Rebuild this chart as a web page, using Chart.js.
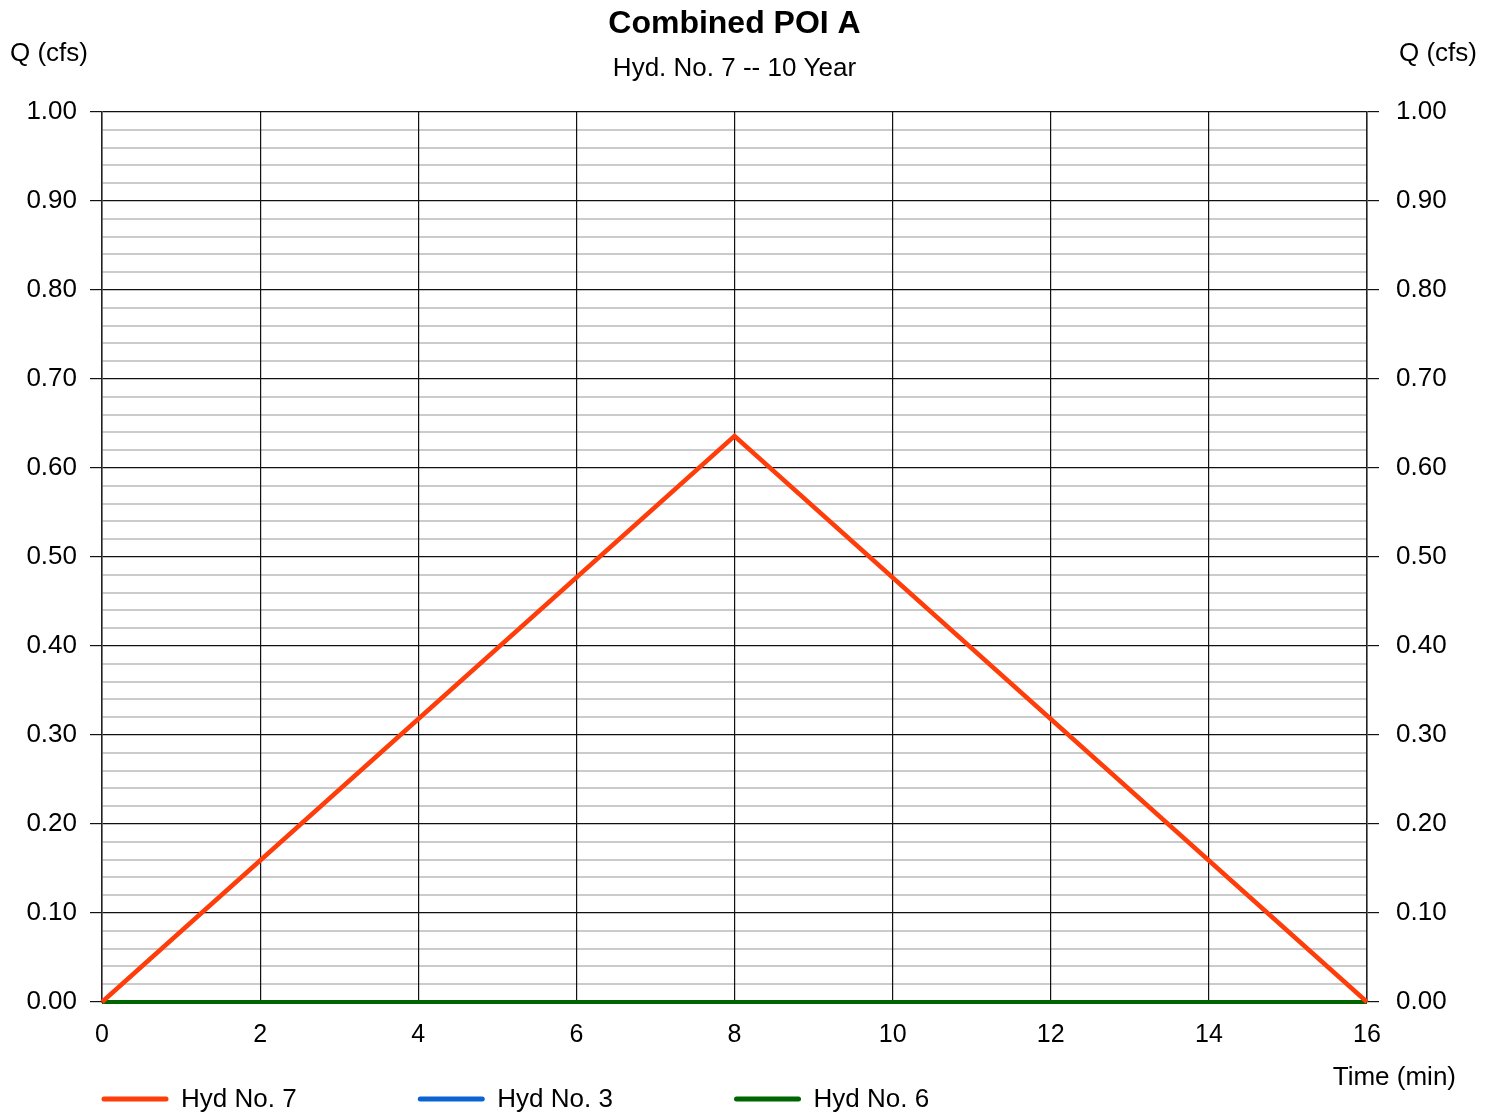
<!DOCTYPE html>
<html>
<head>
<meta charset="utf-8">
<script src="https://cdn.jsdelivr.net/npm/chart.js@4"></script>
<style>
  html, body { margin: 0; padding: 0; background: #fff; }
  canvas { display: block; }
</style>
</head>
<body>
<canvas id="hydChart" width="1496" height="1114"></canvas>
<script>
const time = [0, 8, 16];
const hyd7 = [0, 0.636, 0];
const hyd3 = [0, 0, 0];
const hyd6 = [0, 0, 0];
const seriesNames = ['Hyd No. 7', 'Hyd No. 3', 'Hyd No. 6'];
const seriesColors = ['#ff3d0a', '#0a64d2', '#006400'];
const legendAt = [0, 4, 8]; // legend items line up with these time gridlines

const FONT = "Arial, 'Liberation Sans', sans-serif";

const toPoints = (vals) => time.map((t, i) => ({ x: t, y: vals[i] }));
const isMajor = (v) => Math.round(v * 100) % 10 === 0;

const yAxis = (pos) => ({
    type: 'linear',
    position: pos,
    min: 0,
    max: 1,
    afterFit: (s) => { s.width = pos === 'left' ? 102 : 129; },
    border: { display: true, color: '#222', width: 1.5 },
    grid: {
        drawOnChartArea: pos === 'left',
        color: (c) => isMajor(c.tick.value) ? '#111' : '#cbcbcb',
        lineWidth: (c) => isMajor(c.tick.value) ? 1.2 : 2,
        tickColor: (c) => isMajor(c.tick.value) ? '#111' : 'rgba(0,0,0,0)',
        tickLength: 12
    },
    ticks: {
        stepSize: 0.02,
        autoSkip: false,
        padding: pos === 'left' ? 13 : 17,
        color: '#000',
        font: { family: FONT, size: 26 },
        callback: (v) => isMajor(v) ? v.toFixed(2) : ''
    }
});

const extraText = {
    id: 'extraText',
    afterDraw(chart) {
        const ctx = chart.ctx;
        const area = chart.chartArea;
        const xs = chart.scales.x;
        const mid = (area.left + area.right) / 2;
        ctx.save();
        ctx.fillStyle = '#000';
        ctx.textBaseline = 'middle';

        ctx.textAlign = 'center';
        ctx.font = 'bold 32px ' + FONT;
        ctx.fillText('Combined POI A', mid, 24);
        ctx.font = '26px ' + FONT;
        ctx.fillText('Hyd. No. 7 -- 10 Year', mid, 69);

        ctx.font = '26px ' + FONT;
        ctx.textAlign = 'left';
        ctx.fillText('Q (cfs)', 10, 54);
        ctx.textAlign = 'right';
        ctx.fillText('Q (cfs)', 1477, 54);
        ctx.fillText('Time (min)', 1456, 1078);

        // legend along the bottom
        ctx.textAlign = 'left';
        ctx.lineWidth = 5;
        ctx.lineCap = 'round';
        legendAt.forEach((t, i) => {
            const x0 = xs.getPixelForValue(t);
            ctx.strokeStyle = seriesColors[i];
            ctx.beginPath();
            ctx.moveTo(x0 + 2, 1099);
            ctx.lineTo(x0 + 64, 1099);
            ctx.stroke();
            ctx.fillText(seriesNames[i], x0 + 79, 1100);
        });
        ctx.restore();
    }
};

new Chart(document.getElementById('hydChart'), {
    type: 'line',
    data: {
        datasets: [
            { label: seriesNames[0], data: toPoints(hyd7), borderColor: seriesColors[0], borderWidth: 4.5, pointRadius: 0, order: 0, clip: 6 },
            { label: seriesNames[1], data: toPoints(hyd3), borderColor: seriesColors[1], borderWidth: 4, pointRadius: 0, order: 2, clip: 6 },
            { label: seriesNames[2], data: toPoints(hyd6), borderColor: seriesColors[2], borderWidth: 4, pointRadius: 0, order: 1, clip: 6 }
        ]
    },
    options: {
        responsive: false,
        animation: false,
        layout: { padding: { top: 112, bottom: 0, left: 0, right: 0 } },
        plugins: { legend: { display: false }, tooltip: { enabled: false } },
        scales: {
            y: yAxis('left'),
            y2: yAxis('right'),
            x: {
                type: 'linear',
                min: 0,
                max: 16,
                afterFit: (s) => { s.height = 112; },
                border: { display: true, color: '#222', width: 1.5 },
                grid: { color: '#111', lineWidth: 1.2, drawTicks: false },
                ticks: {
                    stepSize: 2,
                    padding: 18,
                    color: '#000',
                    font: { family: FONT, size: 25 }
                }
            }
        }
    },
    plugins: [extraText]
});
</script>
</body>
</html>
